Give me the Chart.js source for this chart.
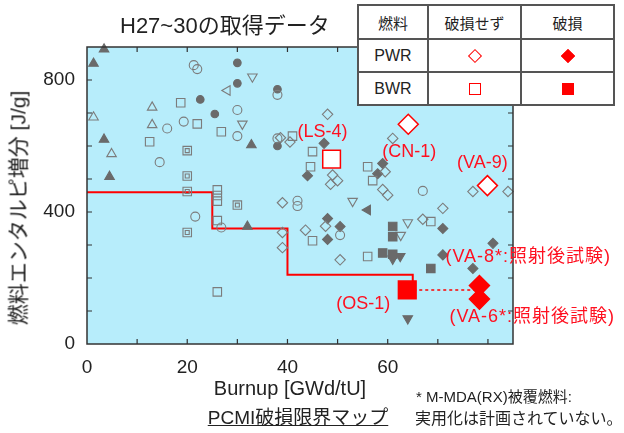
<!DOCTYPE html>
<html>
<head>
<meta charset="utf-8">
<script src="https://cdn.jsdelivr.net/npm/chart.js@4.4.1/dist/chart.umd.min.js"></script>
<style>
  body { margin: 0; background: #fff; font-family: "Liberation Sans", "Noto Sans CJK JP", sans-serif; color: #222; }
  #wrap { position: relative; width: 624px; height: 433px; overflow: hidden; }
  #chart { position: absolute; left: 0; top: 0; }
  .txt { position: absolute; white-space: nowrap; line-height: 1; }
  #title { left: 120px; top: 15px; font-size: 22px; }
  #ytitle { left: 18px; top: 208px; font-size: 21px; transform: translate(-50%, -50%) rotate(-90deg); }
  #xtitle { left: 290px; top: 378px; font-size: 20px; transform: translateX(-50%); }
  #mapname { left: 298px; top: 408px; font-size: 19px; transform: translateX(-50%); text-decoration: underline; }
  #note1 { left: 416px; top: 389px; font-size: 15px; }
  #note2 { left: 415px; top: 411px; font-size: 16px; }
  #legend { position: absolute; left: 357px; top: 4px; border-collapse: collapse; background: #fff; }
  #legend td, #legend th { border: 2px solid #555; text-align: center; padding: 0; font-weight: normal; }
  #legend th { height: 32px; font-size: 15px; }
  #legend td { height: 31px; font-size: 16px; }
  .mk { display: inline-block; box-sizing: border-box; vertical-align: middle; }
  .dia { width: 10px; height: 10px; transform: rotate(45deg); background: #f00; border: 1.5px solid #f00; }
  .sq { width: 12px; height: 12px; background: #f00; border: 1.5px solid #f00; }
  .open { background: #fff; }
</style>
</head>
<body>
<div id="wrap">
  <canvas id="chart" width="624" height="433"></canvas>
  <div class="txt" id="title">H27~30の取得データ</div>
  <div class="txt" id="ytitle">燃料エンタルピ増分 [J/g]</div>
  <div class="txt" id="xtitle">Burnup [GWd/tU]</div>
  <div class="txt" id="mapname">PCMI破損限界マップ</div>
  <div class="txt" id="note1">* M-MDA(RX)被覆燃料:</div>
  <div class="txt" id="note2">実用化は計画されていない。</div>
  <table id="legend">
    <tr><th style="width:68px">燃料</th><th style="width:91px">破損せず</th><th style="width:91px">破損</th></tr>
    <tr><td>PWR</td><td><span class="mk dia open"></span></td><td><span class="mk dia"></span></td></tr>
    <tr><td>BWR</td><td><span class="mk sq open"></span></td><td><span class="mk sq"></span></td></tr>
  </table>
</div>
<script>
// PCMI failure limit (step line)
const limitBurnup = [0, 25, 25, 40, 40, 65, 65];
const limitEnthalpy = [460, 460, 350, 350, 210, 210, 172];

// H27~30 results (red)  [burnup, enthalpy]
const pwrIntact = [[64.1, 666], [79.9, 480]];
const pwrFailed = [[78.3, 177], [78.3, 136]];
const bwrIntact = [[48.8, 560]];
const bwrFailed = [[63.9, 164]];
const linkLine = [[63.9, 164], [78.3, 164]];

// labels: text, series, index
const redLabels = [
  ["(LS-4)", "bwrIntact", 0],
  ["(CN-1)", "pwrIntact", 0],
  ["(VA-9)", "pwrIntact", 1],
  ["(OS-1)", "bwrFailed", 0],
  ["(VA-8*:照射後試験)", "pwrFailed", 0],
  ["(VA-6*:照射後試験)", "pwrFailed", 1],
];

// earlier data (gray)
const triOpen = [[1.3, 687], [13, 717], [13, 664], [4.9, 576]];
const triFilled = [[3.4, 893], [1.3, 850], [3.4, 620], [4.5, 507], [32.8, 603], [32, 356]];
const circOpen = [[21.3, 845], [22, 833], [19.3, 674], [16, 653], [30, 709], [30, 630], [14.5, 551],
  [38, 623], [38, 755], [21.6, 386], [26.8, 353], [42, 434], [42, 418], [50.5, 330], [67, 464]];
const circFilled = [[30, 852], [30, 790], [38, 772], [22.6, 741], [25.5, 697], [38, 600]];
const sqOpen = [[18.7, 731], [22, 667], [26.8, 643], [12.5, 613], [41, 630], [45, 583], [44.6, 537],
  [26, 467], [26, 450], [26, 433], [26, 374], [26, 158], [45, 313], [56, 537], [57, 495],
  [68.6, 371], [56, 265]];
const sqDouble = [[20, 586], [20, 509], [20, 462], [30, 421], [20, 338]];
const sqFilled = [[61, 356], [61, 325], [68.6, 229], [59, 276], [61, 272]];
const diaOpen = [[48, 696], [49, 512], [50, 495], [48.6, 484], [39, 428], [39, 338], [39, 292],
  [43.6, 345], [47.6, 357], [50.5, 255], [61, 623], [60, 451], [59, 468], [77, 462], [84, 462],
  [71, 411], [67, 378], [38.6, 625], [40.5, 612], [59.5, 522]];
const diaFilled = [[47.3, 608], [44, 510], [48, 380], [48, 317], [50.5, 356], [59, 547], [58, 516],
  [71, 350], [81, 305], [71, 270], [77, 229]];
const invTriOpen = [[33, 810], [31, 667], [53, 433], [64, 368], [62.6, 330]];
const invTriFilled = [[64, 77], [61, 258], [62.5, 266]];
const leftTriOpen = [[28, 768]];
const leftTriFilled = [[56, 406]];

const series = { pwrIntact, pwrFailed, bwrIntact, bwrFailed };

const RED = "#ff0000";
const GRAY = "#7c7c7c";
const GRAYF = "#6a6a6a";

const pts = (arr) => arr.map(([x, y]) => ({ x, y }));

function gray(data, style, filled, radius, rotation) {
  return {
    data: pts(data),
    pointStyle: style,
    rotation: rotation || 0,
    pointRadius: radius,
    borderWidth: 1.1,
    borderColor: filled ? GRAYF : GRAY,
    backgroundColor: filled ? GRAYF : "rgba(0,0,0,0)",
    clip: false,
  };
}

function red(data, style, filled, radius) {
  return {
    data: pts(data),
    pointStyle: style,
    pointRadius: radius,
    borderWidth: 1.5,
    borderColor: RED,
    backgroundColor: filled ? RED : "#fff",
    clip: false,
  };
}

// background, inward ticks and frame
const framePlugin = {
  id: "frame",
  beforeDatasetsDraw(chart) {
    const { ctx, chartArea: a } = chart;
    ctx.save();
    ctx.fillStyle = "#b7edfb";
    ctx.fillRect(a.left, a.top, a.right - a.left, a.bottom - a.top);
    ctx.restore();
  },
  afterDatasetsDraw(chart) {
    const { ctx, chartArea: a, scales } = chart;
    ctx.save();
    ctx.strokeStyle = "#333";
    ctx.lineWidth = 1.5;
    ctx.strokeRect(a.left, a.top, a.right - a.left, a.bottom - a.top);
    ctx.lineWidth = 1.2;
    ctx.beginPath();
    for (let v = 10; v < scales.x.max; v += 10) {
      const px = scales.x.getPixelForValue(v);
      ctx.moveTo(px, a.bottom); ctx.lineTo(px, a.bottom - 5);
      ctx.moveTo(px, a.top); ctx.lineTo(px, a.top + 5);
    }
    for (let v = 100; v < scales.y.max; v += 100) {
      const py = scales.y.getPixelForValue(v);
      ctx.moveTo(a.left, py); ctx.lineTo(a.left + 5, py);
      ctx.moveTo(a.right, py); ctx.lineTo(a.right - 5, py);
    }
    ctx.stroke();
    ctx.restore();
  },
  afterDraw(chart) {
    const { ctx, scales } = chart;
    ctx.save();
    ctx.fillStyle = "#ff1020";
    ctx.font = '18px "Liberation Sans", "Noto Sans CJK JP"';
    ctx.textBaseline = "middle";
    const offs = {
      "(LS-4)": [-9, -27, "center"],
      "(CN-1)": [1, 28, "center"],
      "(VA-9)": [-5, -23, "center"],
      "(OS-1)": [-17, 14, "right"],
      "(VA-8*:照射後試験)": [-34, -29, "left"],
      "(VA-6*:照射後試験)": [-30, 18, "left"],
    };
    redLabels.forEach(([text, key, i]) => {
      const [x, y] = series[key][i];
      const [dx, dy, align] = offs[text];
      ctx.textAlign = align;
      const px = scales.x.getPixelForValue(x) + dx;
      const py = scales.y.getPixelForValue(y) + dy;
      ctx.letterSpacing = text.length > 8 ? "1px" : "0px";
      ctx.fillText(text, px, py);
    });
    ctx.restore();
  },
};

new Chart(document.getElementById("chart"), {
  type: "scatter",
  data: {
    datasets: [
      red(bwrIntact, "rect", false, 12.5),
      red(bwrFailed, "rect", true, 12.5),
      red(pwrIntact, "rectRot", false, 10),
      red(pwrFailed, "rectRot", true, 10),
      {
        data: pts(linkLine),
        showLine: true,
        pointRadius: 0,
        borderColor: RED,
        borderWidth: 1.5,
        borderDash: [3, 3],
      },
      gray(sqDouble, "rect", false, 2.8),
      gray(sqDouble, "rect", false, 6),
      gray(sqOpen, "rect", false, 6),
      gray(sqFilled, "rect", true, 6),
      gray(triOpen, "triangle", false, 5.5),
      gray(triFilled, "triangle", true, 5.5),
      gray(invTriOpen, "triangle", false, 5.5, 180),
      gray(invTriFilled, "triangle", true, 5.5, 180),
      gray(leftTriOpen, "triangle", false, 5.5, 270),
      gray(leftTriFilled, "triangle", true, 5.5, 270),
      gray(circOpen, "circle", false, 4.5),
      gray(circFilled, "circle", true, 3.8),
      gray(diaOpen, "rectRot", false, 5.2),
      gray(diaFilled, "rectRot", true, 5),
      {
        data: limitBurnup.map((x, i) => ({ x, y: limitEnthalpy[i] })),
        showLine: true,
        pointRadius: 0,
        borderColor: RED,
        borderWidth: 2,
      },
    ],
  },
  options: {
    responsive: false,
    animation: false,
    layout: { padding: { top: 47, right: 111, left: 0, bottom: 0 } },
    plugins: { legend: { display: false }, tooltip: { enabled: false } },
    scales: {
      x: {
        type: "linear",
        min: 0,
        max: 85,
        afterFit: (s) => { s.height = 89; },
        grid: { display: false },
        border: { display: false },
        ticks: {
          stepSize: 10,
          padding: 4,
          maxRotation: 0,
          autoSkip: false,
          color: "#222",
          font: { family: "Liberation Sans", size: 19 },
          callback: (v) => (v % 20 === 0 ? v : ""),
        },
      },
      y: {
        min: 0,
        max: 900,
        afterFit: (s) => { s.width = 87; },
        grid: { display: false },
        border: { display: false },
        ticks: {
          stepSize: 100,
          padding: 4,
          autoSkip: false,
          color: "#222",
          font: { family: "Liberation Sans", size: 19 },
          callback: (v) => (v % 400 === 0 ? v : ""),
        },
      },
    },
  },
  plugins: [framePlugin],
});
</script>
</body>
</html>
